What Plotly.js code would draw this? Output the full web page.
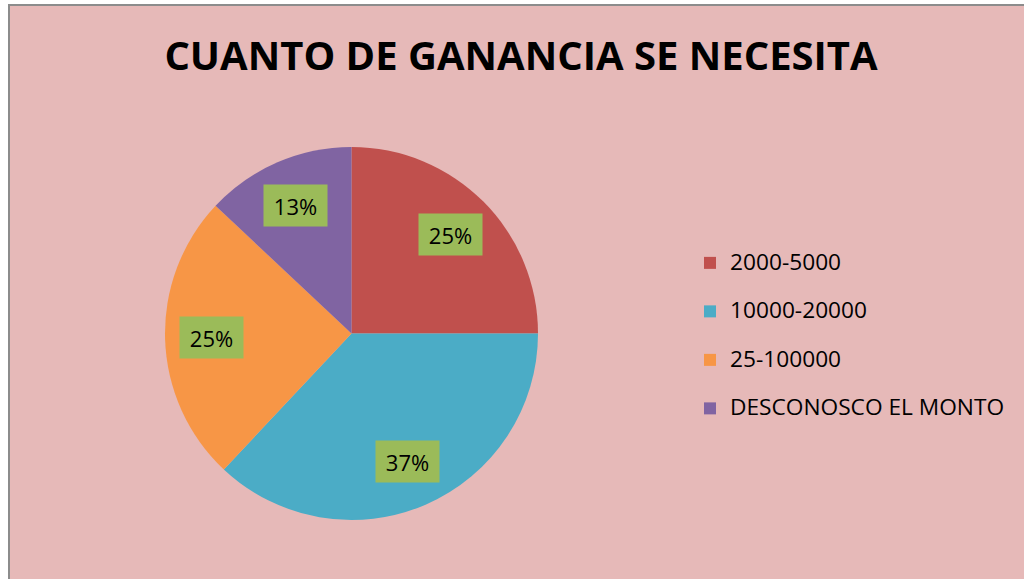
<!DOCTYPE html>
<html>
<head>
<meta charset="utf-8">
<script src="https://cdn.plot.ly/plotly-3.0.1.min.js"></script>
<style>
  html, body { margin: 0; padding: 0; background: #ffffff; width: 1024px; height: 579px; overflow: hidden; }
  #frame { position: absolute; left: 8px; top: 4px; width: 1014px; height: 573px;
           border-left: 2px solid #8c8c8c; border-top: 2px solid #8c8c8c; background: #E6B9B8; }
  #chart { width: 1014px; height: 573px; }
</style>
</head>
<body>
<div id="frame"><div id="chart"></div></div>
<script>
// ---- data ----
const categories = ["2000-5000", "10000-20000", "25-100000", "DESCONOSCO EL MONTO"];
const values = [25, 37, 25, 13];
const colors = ["#C0504D", "#4BACC6", "#F79646", "#8064A2"];
const titleText = "CUANTO DE GANANCIA SE NECESITA";

// ---- geometry (px inside the plot) ----
const W = 1014, H = 573;
const cx = 341.5, cyTop = 327.5, R = 186.5;
const cyB = H - cyTop;
const domX = [(cx - R) / W, (cx + R) / W];
const domY = [(cyB - R) / H, (cyB + R) / H];

// legend labels (two lines so the items are spaced like the original)
const legendLabels = categories.map(c => '<span style="font-size:22.7px">' + c + '</span><br>&nbsp;');

// data label annotations at each slice's mid angle
const total = values.reduce((a, b) => a + b, 0);
let cum = 0;
const annotations = values.map((v, i) => {
  const mid = (cum + v / 2) / total;
  cum += v;
  const th = 2 * Math.PI * mid;
  const rl = 0.75 * R;
  const px = cx + rl * Math.sin(th);
  const py = cyB + rl * Math.cos(th);
  return {
    xref: 'paper', yref: 'paper', x: px / W, y: py / H,
    xanchor: 'center', yanchor: 'middle', showarrow: false,
    text: Math.round(v / total * 100) + '%',
    bgcolor: '#9BBB59', width: 63, height: 41, borderpad: 0,
    font: { family: 'Open Sans, sans-serif', size: 22, color: '#000000' }
  };
});

const trace = {
  type: 'pie',
  labels: legendLabels,
  values: values,
  marker: { colors: colors, line: { width: 0 } },
  sort: false,
  direction: 'clockwise',
  rotation: 0,
  textinfo: 'none',
  hoverinfo: 'none',
  domain: { x: domX, y: domY }
};

const layout = {
  width: W, height: H,
  margin: { l: 0, r: 0, t: 0, b: 0 },
  paper_bgcolor: '#E6B9B8',
  plot_bgcolor: '#E6B9B8',
  title: {
    text: '<b>' + titleText + '</b>',
    font: { family: 'Open Sans, sans-serif', size: 40, color: '#000000' },
    x: 511 / W, xanchor: 'center',
    y: 1 - 50 / H, yanchor: 'middle',
    xref: 'paper', yref: 'paper'
  },
  showlegend: true,
  legend: {
    x: 680 / W, xanchor: 'left',
    y: (H - 341) / H, yanchor: 'middle',
    valign: 'top',
    bgcolor: 'rgba(0,0,0,0)',
    font: { family: 'Open Sans, sans-serif', size: 17.5, color: '#000000' },
    traceorder: 'normal'
  },
  annotations: annotations
};

Plotly.newPlot('chart', [trace], layout, { displayModeBar: false, staticPlot: true });
</script>
</body>
</html>
